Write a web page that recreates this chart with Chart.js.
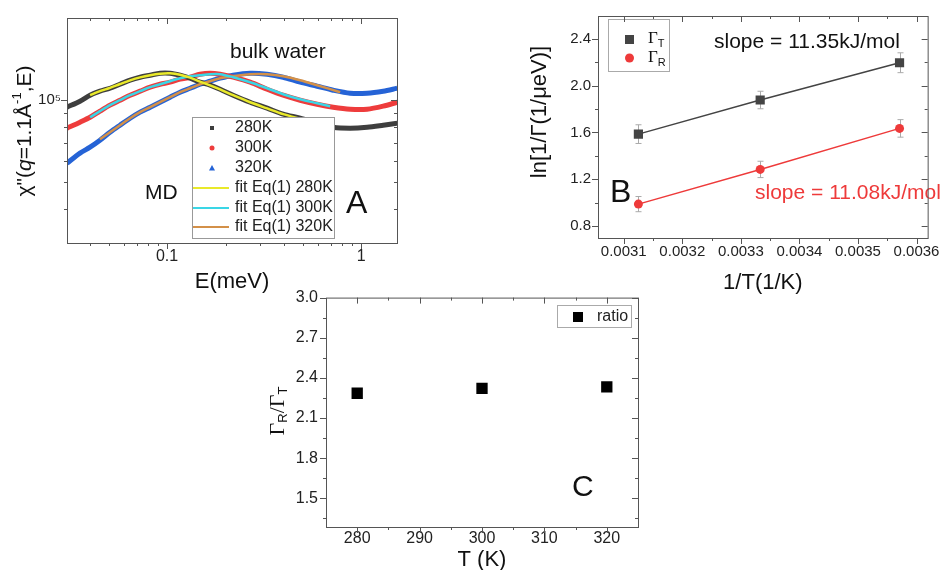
<!DOCTYPE html>
<html>
<head>
<meta charset="utf-8">
<script src="https://cdn.jsdelivr.net/npm/chart.js@4.4.1/dist/chart.umd.min.js"></script>
<style>
  body { margin: 0; background: #fff; }
  canvas { position: absolute; }
</style>
</head>
<body>
<canvas id="chartA" width="410" height="300" style="left:0;top:0"></canvas>
<canvas id="chartB" width="425" height="300" style="left:520px;top:0"></canvas>
<canvas id="chartC" width="400" height="290" style="left:250px;top:280px"></canvas>
<script>
const FONT = "'Liberation Sans', Arial, sans-serif";
const SERIF = "'Liberation Serif', 'Times New Roman', serif";

// ---- panel A : chi''(q,E), values in units of 1e5
const energy = [0.0305, 0.0356, 0.0401, 0.0451, 0.0508, 0.0572, 0.0645, 0.0726, 0.0818, 0.0920,
  0.1036, 0.1167, 0.1314, 0.1479, 0.1666, 0.1876, 0.2189, 0.2679, 0.3278, 0.3963,
  0.4850, 0.5932, 0.7174, 0.8776, 1.0737, 1.2986, 1.534];
const chi280 = [0.943, 0.992, 1.043, 1.079, 1.106, 1.144, 1.184, 1.214, 1.235, 1.256,
  1.256, 1.235, 1.204, 1.164, 1.135, 1.097, 1.043, 0.983, 0.935, 0.889,
  0.859, 0.824, 0.796, 0.790, 0.796, 0.810, 0.824];
const chi300 = [0.790, 0.831, 0.866, 0.912, 0.959, 1.000, 1.043, 1.079, 1.116, 1.144,
  1.164, 1.194, 1.214, 1.245, 1.256, 1.245, 1.214, 1.164, 1.097, 1.043,
  1.000, 0.967, 0.943, 0.927, 0.927, 0.951, 0.983];
const chi320 = [0.588, 0.640, 0.673, 0.714, 0.763, 0.810, 0.859, 0.904, 0.943, 0.983,
  1.026, 1.070, 1.106, 1.144, 1.174, 1.204, 1.235, 1.256, 1.245, 1.214,
  1.164, 1.125, 1.088, 1.061, 1.061, 1.079, 1.106];

const fitE280 = [0.0401, 0.0451, 0.0508, 0.0572, 0.0645, 0.0726, 0.0818, 0.0920, 0.1036, 0.1167,
  0.1314, 0.1479, 0.1666, 0.1876, 0.2189, 0.2679, 0.3278, 0.3963, 0.4850];
const fit280 = [1.043, 1.079, 1.110, 1.146, 1.182, 1.212, 1.235, 1.250, 1.254, 1.240,
  1.210, 1.170, 1.133, 1.095, 1.043, 0.983, 0.933, 0.889, 0.855];
const fitE300 = [0.0401, 0.0451, 0.0508, 0.0572, 0.0645, 0.0726, 0.0818, 0.0920, 0.1036, 0.1167,
  0.1314, 0.1479, 0.1666, 0.1876, 0.2189, 0.2679, 0.3278, 0.3963, 0.4850, 0.5932, 0.6923];
const fit300 = [0.866, 0.912, 0.959, 1.000, 1.043, 1.079, 1.116, 1.144, 1.174, 1.204,
  1.224, 1.235, 1.245, 1.245, 1.214, 1.164, 1.106, 1.052, 1.008, 0.975, 0.951];
const fitE320 = [0.0451, 0.0508, 0.0572, 0.0645, 0.0726, 0.0818, 0.0920, 0.1036, 0.1167, 0.1314,
  0.1479, 0.1666, 0.1876, 0.2189, 0.2679, 0.3278, 0.3963, 0.4850, 0.5932, 0.7795];
const fit320 = [0.720, 0.763, 0.810, 0.859, 0.904, 0.943, 0.983, 1.026, 1.070, 1.106,
  1.144, 1.174, 1.204, 1.224, 1.245, 1.245, 1.224, 1.184, 1.135, 1.070];

const legendA = ['280K', '300K', '320K', 'fit Eq(1) 280K', 'fit Eq(1) 300K', 'fit Eq(1) 320K'];
const xMajorA = [0.1, 1], xLabelA = ['0.1', '1'];
const xMinorA = [0.04, 0.05, 0.06, 0.07, 0.08, 0.09, 0.2, 0.3, 0.4, 0.5, 0.6, 0.7, 0.8, 0.9];
const yMajorA = [1e5], yLabelA = ['10⁵'];
const yMinorA = [4e4, 5e4, 6e4, 7e4, 8e4, 9e4];

// ---- panel B : Arrhenius plot
const invT = [0.003125, 0.003333, 0.003571];
const lnRateT = [1.586, 1.878, 2.197], errT = [0.08, 0.075, 0.085];
const lnRateR = [0.987, 1.284, 1.635], errR = [0.065, 0.07, 0.075];
const xMajorB = [0.0031, 0.0032, 0.0033, 0.0034, 0.0035, 0.0036];
const xLabelB = ['0.0031', '0.0032', '0.0033', '0.0034', '0.0035', '0.0036'];
const xMinorB = [0.00315, 0.00325, 0.00335, 0.00345, 0.00355];
const yMajorB = [0.8, 1.2, 1.6, 2.0, 2.4], yLabelB = ['0.8', '1.2', '1.6', '2.0', '2.4'];
const yMinorB = [1.0, 1.4, 1.8, 2.2];

// ---- panel C : ratio
const temps = [280, 300, 320];
const ratio = [2.285, 2.322, 2.332], errRatio = [0.01, 0.02, 0.015];
const xMajorC = [280, 290, 300, 310, 320], xLabelC = ['280', '290', '300', '310', '320'];
const xMinorC = [285, 295, 305, 315];
const yMajorC = [1.5, 1.8, 2.1, 2.4, 2.7, 3.0], yLabelC = ['1.5', '1.8', '2.1', '2.4', '2.7', '3.0'];
const yMinorC = [1.35, 1.65, 1.95, 2.25, 2.55, 2.85];

function points(xs, ys, k) {
  return xs.map((x, i) => ({x: x, y: ys[i] * (k || 1)}));
}

function makeAxis(type, min, max, majors, labels, minors, size, fontSize, pad, extra) {
  const all = majors.concat(minors).sort((a, b) => a - b);
  return Object.assign({
    type: type, min: min, max: max,
    border: {display: false},
    grid: {display: false, drawTicks: false, tickLength: 0},
    afterBuildTicks: s => { s.ticks = all.map(v => ({value: v})); },
    afterFit: s => { if (s.isHorizontal()) s.height = size; else s.width = size; },
    ticks: {
      autoSkip: false, maxRotation: 0, padding: pad, color: '#222',
      font: {family: FONT, size: fontSize},
      callback: v => { const i = majors.indexOf(v); return i < 0 ? '' : labels[i]; }
    }
  }, extra || {});
}

function xTitle(text, pb) {
  return {title: {display: true, text: text, color: '#111', font: {family: FONT, size: 22},
    padding: {top: 0, bottom: pb}}};
}

// text made of parts: [string, font, dy, color]
function richText(ctx, parts, x, y, rotate, align) {
  ctx.save();
  ctx.translate(x, y);
  if (rotate) ctx.rotate(-Math.PI / 2);
  let total = 0;
  parts.forEach(p => { ctx.font = p[1]; total += ctx.measureText(p[0]).width; });
  let cx = align === 'left' ? 0 : -total / 2;
  ctx.textBaseline = 'middle';
  ctx.textAlign = 'left';
  parts.forEach(p => {
    ctx.font = p[1];
    ctx.fillStyle = p[3] || '#111';
    ctx.fillText(p[0], cx, p[2] || 0);
    cx += ctx.measureText(p[0]).width;
  });
  ctx.restore();
}

// box around the plot, ticks out on left/bottom, in on top/right
const frame = {
  id: 'frame',
  afterDraw(chart) {
    const {ctx, chartArea: a} = chart;
    const sx = chart.scales.x, sy = chart.scales.y;
    ctx.save();
    ctx.strokeStyle = '#555';
    ctx.lineWidth = 1;
    ctx.strokeRect(a.left + 0.5, a.top + 0.5, a.right - a.left, a.bottom - a.top);
    ctx.beginPath();
    sx.ticks.forEach(t => {
      const p = Math.round(sx.getPixelForValue(t.value)) + 0.5;
      const len = t.label ? 6 : 3;
      ctx.moveTo(p, a.bottom); ctx.lineTo(p, a.bottom + len);
      ctx.moveTo(p, a.top); ctx.lineTo(p, a.top + len);
    });
    sy.ticks.forEach(t => {
      const p = Math.round(sy.getPixelForValue(t.value)) + 0.5;
      const len = t.label ? 6 : 3;
      ctx.moveTo(a.left, p); ctx.lineTo(a.left - len, p);
      ctx.moveTo(a.right, p); ctx.lineTo(a.right - len, p);
    });
    ctx.stroke();
    ctx.restore();
  }
};

function errorBars(chart, xs, ys, errs, color, cap) {
  const ctx = chart.ctx, sx = chart.scales.x, sy = chart.scales.y;
  ctx.save();
  ctx.strokeStyle = color;
  ctx.lineWidth = 1;
  ctx.beginPath();
  xs.forEach((x, i) => {
    const px = Math.round(sx.getPixelForValue(x)) + 0.5;
    const y1 = sy.getPixelForValue(ys[i] - errs[i]), y2 = sy.getPixelForValue(ys[i] + errs[i]);
    ctx.moveTo(px, y1); ctx.lineTo(px, y2);
    ctx.moveTo(px - cap, y1); ctx.lineTo(px + cap, y1);
    ctx.moveTo(px - cap, y2); ctx.lineTo(px + cap, y2);
  });
  ctx.stroke();
  ctx.restore();
}

const baseOptions = {
  responsive: false,
  animation: false,
  plugins: {legend: {display: false}, tooltip: {enabled: false}}
};

// ---------- A ----------
const colA = ['#3e3e3e', '#ee3c3c', '#2563d6', '#e9e92a', '#3ad6e6', '#d39048'];

function lineSet(xs, ys, color, width, order) {
  return {data: points(xs, ys, 1e5), showLine: true, borderColor: color, borderWidth: width,
    pointRadius: 0, tension: 0.3, order: order};
}

new Chart(document.getElementById('chartA'), {
  type: 'scatter',
  data: {datasets: [
    lineSet(fitE280, fit280, colA[3], 2.5, 0),
    lineSet(fitE300, fit300, colA[4], 2.5, 0),
    lineSet(fitE320, fit320, colA[5], 2.5, 0),
    lineSet(energy, chi280, colA[0], 5, 1),
    lineSet(energy, chi300, colA[1], 5, 1),
    lineSet(energy, chi320, colA[2], 5, 1)
  ]},
  options: Object.assign({}, baseOptions, {
    layout: {padding: {top: 18, right: 13, left: 0, bottom: 0}},
    scales: {
      x: makeAxis('logarithmic', 0.0305, 1.53, xMajorA, xLabelA, xMinorA, 57, 16, 4, xTitle('E(meV)', 5)),
      y: makeAxis('logarithmic', 3e4, 2e5, yMajorA, yLabelA, yMinorA, 67, 15, 6)
    }
  }),
  plugins: [frame, {
    id: 'notesA',
    afterDatasetsDraw(chart) {
      const ctx = chart.ctx;
      ctx.save();
      ctx.fillStyle = '#fff';
      ctx.strokeStyle = '#999';
      ctx.lineWidth = 1;
      ctx.fillRect(192, 117, 142, 121);
      ctx.strokeRect(192.5, 117.5, 142, 121);
      // markers
      ctx.fillStyle = colA[0];
      ctx.fillRect(210, 126, 4, 4);
      ctx.fillStyle = colA[1];
      ctx.beginPath(); ctx.arc(212, 148, 2.5, 0, Math.PI * 2); ctx.fill();
      ctx.fillStyle = colA[2];
      ctx.beginPath(); ctx.moveTo(212, 165); ctx.lineTo(215, 170.5); ctx.lineTo(209, 170.5); ctx.closePath(); ctx.fill();
      ctx.lineWidth = 2;
      [188, 208, 227].forEach((y, i) => {
        ctx.strokeStyle = colA[3 + i];
        ctx.beginPath(); ctx.moveTo(193, y); ctx.lineTo(229, y); ctx.stroke();
      });
      ctx.fillStyle = '#222';
      ctx.font = '16px ' + FONT;
      ctx.textBaseline = 'middle';
      legendA.forEach((t, i) => ctx.fillText(t, 235, [128, 148, 168, 188, 208, 227][i]));
      ctx.fillStyle = '#111';
      ctx.font = '21px ' + FONT;
      ctx.fillText('bulk water', 230, 52);
      ctx.fillText('MD', 145, 193);
      ctx.font = '32px ' + FONT;
      ctx.fillText('A', 346, 204);
      ctx.restore();
      richText(ctx, [
        ['χ"(', '21px ' + FONT], ['q', 'italic 21px ' + FONT], ['=1.1Å', '21px ' + FONT],
        ['-1', '13px ' + FONT, -8], [',E)', '21px ' + FONT]
      ], 25, 131, true);
    }
  }]
});

// ---------- B ----------
new Chart(document.getElementById('chartB'), {
  type: 'scatter',
  data: {datasets: [
    {data: points(invT, lnRateT), showLine: true, borderColor: '#444', borderWidth: 1.5,
      pointStyle: 'rect', pointRadius: 6.5, pointBackgroundColor: '#444', pointBorderWidth: 0},
    {data: points(invT, lnRateR), showLine: true, borderColor: '#ee3a3a', borderWidth: 1.5,
      pointStyle: 'circle', pointRadius: 4.5, pointBackgroundColor: '#ee3a3a', pointBorderWidth: 0}
  ]},
  options: Object.assign({}, baseOptions, {
    layout: {padding: {top: 16, right: 16, left: 0, bottom: 0}},
    scales: {
      x: makeAxis('linear', 0.003056, 0.003619, xMajorB, xLabelB, xMinorB, 62, 15, 5, xTitle('1/T(1/K)', 4)),
      y: makeAxis('linear', 0.697, 2.597, yMajorB, yLabelB, yMinorB, 78, 15, 7)
    }
  }),
  plugins: [frame, {
    id: 'notesB',
    beforeDatasetsDraw(chart) {
      errorBars(chart, invT, lnRateT, errT, '#aaa', 3);
      errorBars(chart, invT, lnRateR, errR, '#aaa', 3);
    },
    afterDatasetsDraw(chart) {
      const ctx = chart.ctx;
      ctx.save();
      ctx.fillStyle = '#fff';
      ctx.strokeStyle = '#aaa';
      ctx.lineWidth = 1;
      ctx.fillRect(88, 19, 61, 52);
      ctx.strokeRect(88.5, 19.5, 61, 52);
      ctx.fillStyle = '#444';
      ctx.fillRect(105, 35, 9, 9);
      ctx.fillStyle = '#ee3a3a';
      ctx.beginPath(); ctx.arc(109.5, 58, 4.5, 0, Math.PI * 2); ctx.fill();
      ctx.textBaseline = 'middle';
      ctx.fillStyle = '#111';
      ctx.font = '21px ' + FONT;
      ctx.fillText('slope = 11.35kJ/mol', 194, 42);
      ctx.fillStyle = '#ee3a3a';
      ctx.fillText('slope = 11.08kJ/mol', 235, 193);
      ctx.fillStyle = '#111';
      ctx.font = '32px ' + FONT;
      ctx.fillText('B', 90, 193);
      ctx.restore();
      richText(ctx, [['Γ', '17px ' + SERIF], ['T', '11px ' + FONT, 5]], 128, 39, false, 'left');
      richText(ctx, [['Γ', '17px ' + SERIF], ['R', '11px ' + FONT, 5]], 128, 58, false, 'left');
      richText(ctx, [['ln[1/Γ(1/μeV)]', '22px ' + FONT]], 20, 112, true);
    }
  }]
});

// ---------- C ----------
new Chart(document.getElementById('chartC'), {
  type: 'scatter',
  data: {datasets: [
    {data: points(temps, ratio), pointStyle: 'rect', pointRadius: 8, pointBackgroundColor: '#000',
      pointBorderWidth: 0}
  ]},
  options: Object.assign({}, baseOptions, {
    layout: {padding: {top: 16, right: 12, left: 0, bottom: 0}},
    scales: {
      x: makeAxis('linear', 275, 325, xMajorC, xLabelC, xMinorC, 43, 16, 2, xTitle('T (K)', -3)),
      y: makeAxis('linear', 1.285, 3.0, yMajorC, yLabelC, yMinorC, 76, 16, 8)
    }
  }),
  plugins: [frame, {
    id: 'notesC',
    beforeDatasetsDraw(chart) {
      errorBars(chart, temps, ratio, errRatio, '#000', 3);
    },
    afterDatasetsDraw(chart) {
      const ctx = chart.ctx;
      ctx.save();
      ctx.fillStyle = '#fff';
      ctx.strokeStyle = '#aaa';
      ctx.lineWidth = 1;
      ctx.fillRect(307, 25, 74, 22);
      ctx.strokeRect(307.5, 25.5, 74, 22);
      ctx.fillStyle = '#000';
      ctx.fillRect(323, 32, 10, 10);
      ctx.fillStyle = '#222';
      ctx.font = '16px ' + FONT;
      ctx.textBaseline = 'middle';
      ctx.fillText('ratio', 347, 37);
      ctx.fillStyle = '#111';
      ctx.font = '30px ' + FONT;
      ctx.fillText('C', 322, 208);
      ctx.restore();
      richText(ctx, [
        ['Γ', '22px ' + SERIF], ['R', '13px ' + FONT, 5], ['/Γ', '22px ' + SERIF], ['T', '13px ' + FONT, 5]
      ], 28, 131, true);
    }
  }]
});
</script>
</body>
</html>
